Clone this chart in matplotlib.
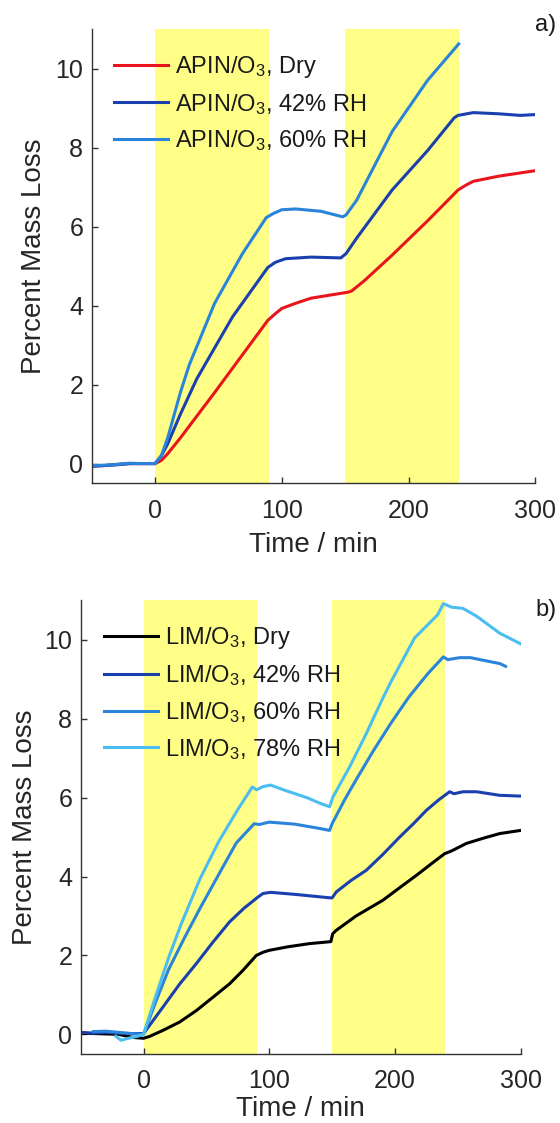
import matplotlib
matplotlib.use("Agg")
import matplotlib.pyplot as plt

plt.rcParams['font.family'] = ['Liberation Sans', 'DejaVu Sans']
plt.rcParams['mathtext.fontset'] = 'custom'
plt.rcParams['mathtext.rm'] = 'Liberation Sans'
plt.rcParams['mathtext.it'] = 'Liberation Sans'
plt.rcParams['mathtext.bf'] = 'Liberation Sans'

# ---------------- data: panel a (APIN/O3) ----------------
apin_dry_t = [-50, -40, -30, -20, -10, 0, 5, 10, 20, 47, 89, 95, 100, 110, 123, 148, 152, 155, 165, 187, 215, 239, 245, 251, 271, 300]
apin_dry_y = [-0.06, -0.05, -0.02, 0.0, 0.0, 0.0, 0.08, 0.25, 0.65, 1.8, 3.63, 3.8, 3.93, 4.05, 4.19, 4.32, 4.34, 4.37, 4.63, 5.28, 6.15, 6.93, 7.05, 7.15, 7.28, 7.42]

apin_42_t = [-50, -40, -30, -20, -10, 0, 5, 10, 20, 33, 61, 89, 95, 103, 123, 146.5, 150.7, 159, 187, 215, 236, 239, 251, 271, 288, 300]
apin_42_y = [-0.07, -0.05, -0.03, 0.0, 0.0, 0.0, 0.2, 0.5, 1.25, 2.15, 3.71, 4.97, 5.1, 5.19, 5.23, 5.21, 5.32, 5.71, 6.93, 7.93, 8.76, 8.82, 8.89, 8.86, 8.82, 8.84]

apin_60_t = [-50, -40, -30, -20, -10, 0, 5, 10, 20, 27, 47, 69, 87.7, 93, 100, 111, 131, 148, 150.7, 159, 187, 215, 239.5]
apin_60_y = [-0.05, -0.04, -0.02, 0.01, 0.0, 0.0, 0.2, 0.65, 1.8, 2.5, 4.06, 5.32, 6.23, 6.33, 6.43, 6.45, 6.39, 6.25, 6.3, 6.67, 8.41, 9.71, 10.63]

# ---------------- data: panel b (LIM/O3) ----------------
lim_dry_t = [-50, -20, -8, 0, 5, 15.4, 28.6, 41.9, 55.2, 68.4, 79, 89.7, 95, 100, 115, 132, 149, 150.5, 153, 169, 190.4, 203, 217, 230, 239.5, 245, 256.8, 270, 283.3, 300]
lim_dry_y = [0.03, 0.0, -0.08, -0.1, -0.05, 0.10, 0.31, 0.60, 0.94, 1.28, 1.62, 2.0, 2.08, 2.13, 2.22, 2.30, 2.35, 2.55, 2.63, 3.0, 3.40, 3.7, 4.03, 4.35, 4.58, 4.65, 4.84, 4.97, 5.09, 5.17]

lim_42_t = [-50, -40, -30, -20, -10, 0, 15.4, 28.6, 41.9, 55, 68.4, 80, 91, 95, 101, 120, 148.5, 150, 153.3, 165, 177.2, 190, 203.7, 215, 225, 235, 243.5, 247, 254, 265, 283.3, 300]
lim_42_y = [0.05, 0.03, 0.05, 0.03, 0.02, 0.02, 0.69, 1.27, 1.79, 2.33, 2.85, 3.2, 3.48, 3.57, 3.6, 3.55, 3.46, 3.46, 3.61, 3.9, 4.16, 4.55, 5.0, 5.35, 5.68, 5.95, 6.15, 6.1, 6.15, 6.15, 6.06, 6.04]

lim_60_t = [-40, -30, -20, -10, 0, 10, 20, 32.6, 45, 58, 73.7, 88, 92, 100, 120, 140, 148, 150, 160, 169, 183, 197, 211, 226, 238.5, 242, 251.5, 260, 283.3, 288]
lim_60_y = [0.07, 0.08, 0.05, 0.02, 0.0, 0.85, 1.65, 2.45, 3.2, 3.95, 4.85, 5.34, 5.32, 5.38, 5.33, 5.22, 5.17, 5.34, 5.95, 6.45, 7.2, 7.9, 8.55, 9.14, 9.57, 9.5, 9.55, 9.55, 9.4, 9.33]

lim_78_t = [-22, -18, -12, -5, 0, 10, 20, 30, 45, 60, 75, 86.5, 90, 95, 101, 113, 130, 141, 148, 150.7, 163.9, 175.9, 190, 197, 215.6, 225, 234, 238.5, 245, 254, 265, 283.3, 300]
lim_78_y = [-0.05, -0.15, -0.1, -0.05, 0.0, 1.0, 1.95, 2.8, 3.95, 4.9, 5.7, 6.27, 6.2, 6.28, 6.32, 6.18, 6.0, 5.85, 5.77, 6.02, 6.78, 7.54, 8.5, 8.95, 10.05, 10.35, 10.64, 10.92, 10.83, 10.8, 10.6, 10.17, 9.9]

# ozone-exposure periods (min)
periods = [(0, 90), (150, 240)]

labels_a = [r'APIN/O$_3$, Dry', r'APIN/O$_3$, 42% RH', r'APIN/O$_3$, 60% RH']
labels_b = [r'LIM/O$_3$, Dry', r'LIM/O$_3$, 42% RH', r'LIM/O$_3$, 60% RH', r'LIM/O$_3$, 78% RH']

xticks = [0, 100, 200, 300]
yticks = [0, 2, 4, 6, 8, 10]

C_RED = '#E8161C'
C_DARK = '#1A3FAE'
C_MID = '#2A84DA'
C_LIGHT = '#4CBDF0'
YELLOW = '#FFFF88'
AXC = '#333333'

fig = plt.figure(figsize=(5.6, 11.23), dpi=100)
ax1 = fig.add_axes([0.1636, 0.5696, 0.7925, 0.4043])
ax2 = fig.add_axes([0.1441, 0.0614, 0.7857, 0.4039])


def style(ax, ylab_x, xlab_y):
    for p0, p1 in periods:
        ax.axvspan(p0, p1, color=YELLOW, lw=0, zorder=0)
    ax.set_xlim(-50, 300)
    ax.set_ylim(-0.5, 11)
    ax.set_xticks(xticks)
    ax.set_yticks(yticks)
    ax.spines['top'].set_visible(False)
    ax.spines['right'].set_visible(False)
    for s in ('left', 'bottom'):
        ax.spines[s].set_color(AXC)
        ax.spines[s].set_linewidth(1.0)
        ax.spines[s].set_zorder(5)
    ax.tick_params(direction='in', length=4, width=1.0, color=AXC,
                   labelsize=18, labelcolor='#262626')
    ax.tick_params(axis='x', pad=11)
    ax.tick_params(axis='y', pad=6)
    ax.set_xlabel('Time / min', fontsize=20, color='#262626')
    ax.set_ylabel('Percent Mass Loss', fontsize=20, color='#262626')
    ax.yaxis.set_label_coords(ylab_x, 0.5)
    ax.xaxis.set_label_coords(0.5, xlab_y)


style(ax1, -0.100, -0.108)
style(ax2, -0.098, -0.093)

lw = 2.2
ax1.plot(apin_dry_t, apin_dry_y, color=C_RED, lw=lw, label=labels_a[0], zorder=3)
ax1.plot(apin_42_t, apin_42_y, color=C_DARK, lw=lw, label=labels_a[1], zorder=3)
ax1.plot(apin_60_t, apin_60_y, color=C_MID, lw=lw, label=labels_a[2], zorder=3)

ax2.plot(lim_dry_t, lim_dry_y, color='black', lw=lw, label=labels_b[0], zorder=3)
ax2.plot(lim_42_t, lim_42_y, color=C_DARK, lw=lw, label=labels_b[1], zorder=3)
ax2.plot(lim_60_t, lim_60_y, color=C_MID, lw=lw, label=labels_b[2], zorder=3)
ax2.plot(lim_78_t, lim_78_y, color=C_LIGHT, lw=lw, label=labels_b[3], zorder=3)

for ax, anchor in ((ax1, (0.05, 0.946)), (ax2, (0.053, 0.945))):
    leg = ax.legend(loc='upper left', bbox_to_anchor=anchor, frameon=False,
                    fontsize=17, handlelength=2.3, handletextpad=0.3,
                    labelspacing=0.5, borderaxespad=0, borderpad=0)
    for t in leg.get_texts():
        t.set_color('#1a1a1a')

fig.text(0.993, 1 - 25 / 1123, 'a)', ha='right', va='center', fontsize=17, color='#1a1a1a')
fig.text(0.993, 1 - 610 / 1123, 'b)', ha='right', va='center', fontsize=17, color='#1a1a1a')

fig.savefig('out.png', dpi=100)
